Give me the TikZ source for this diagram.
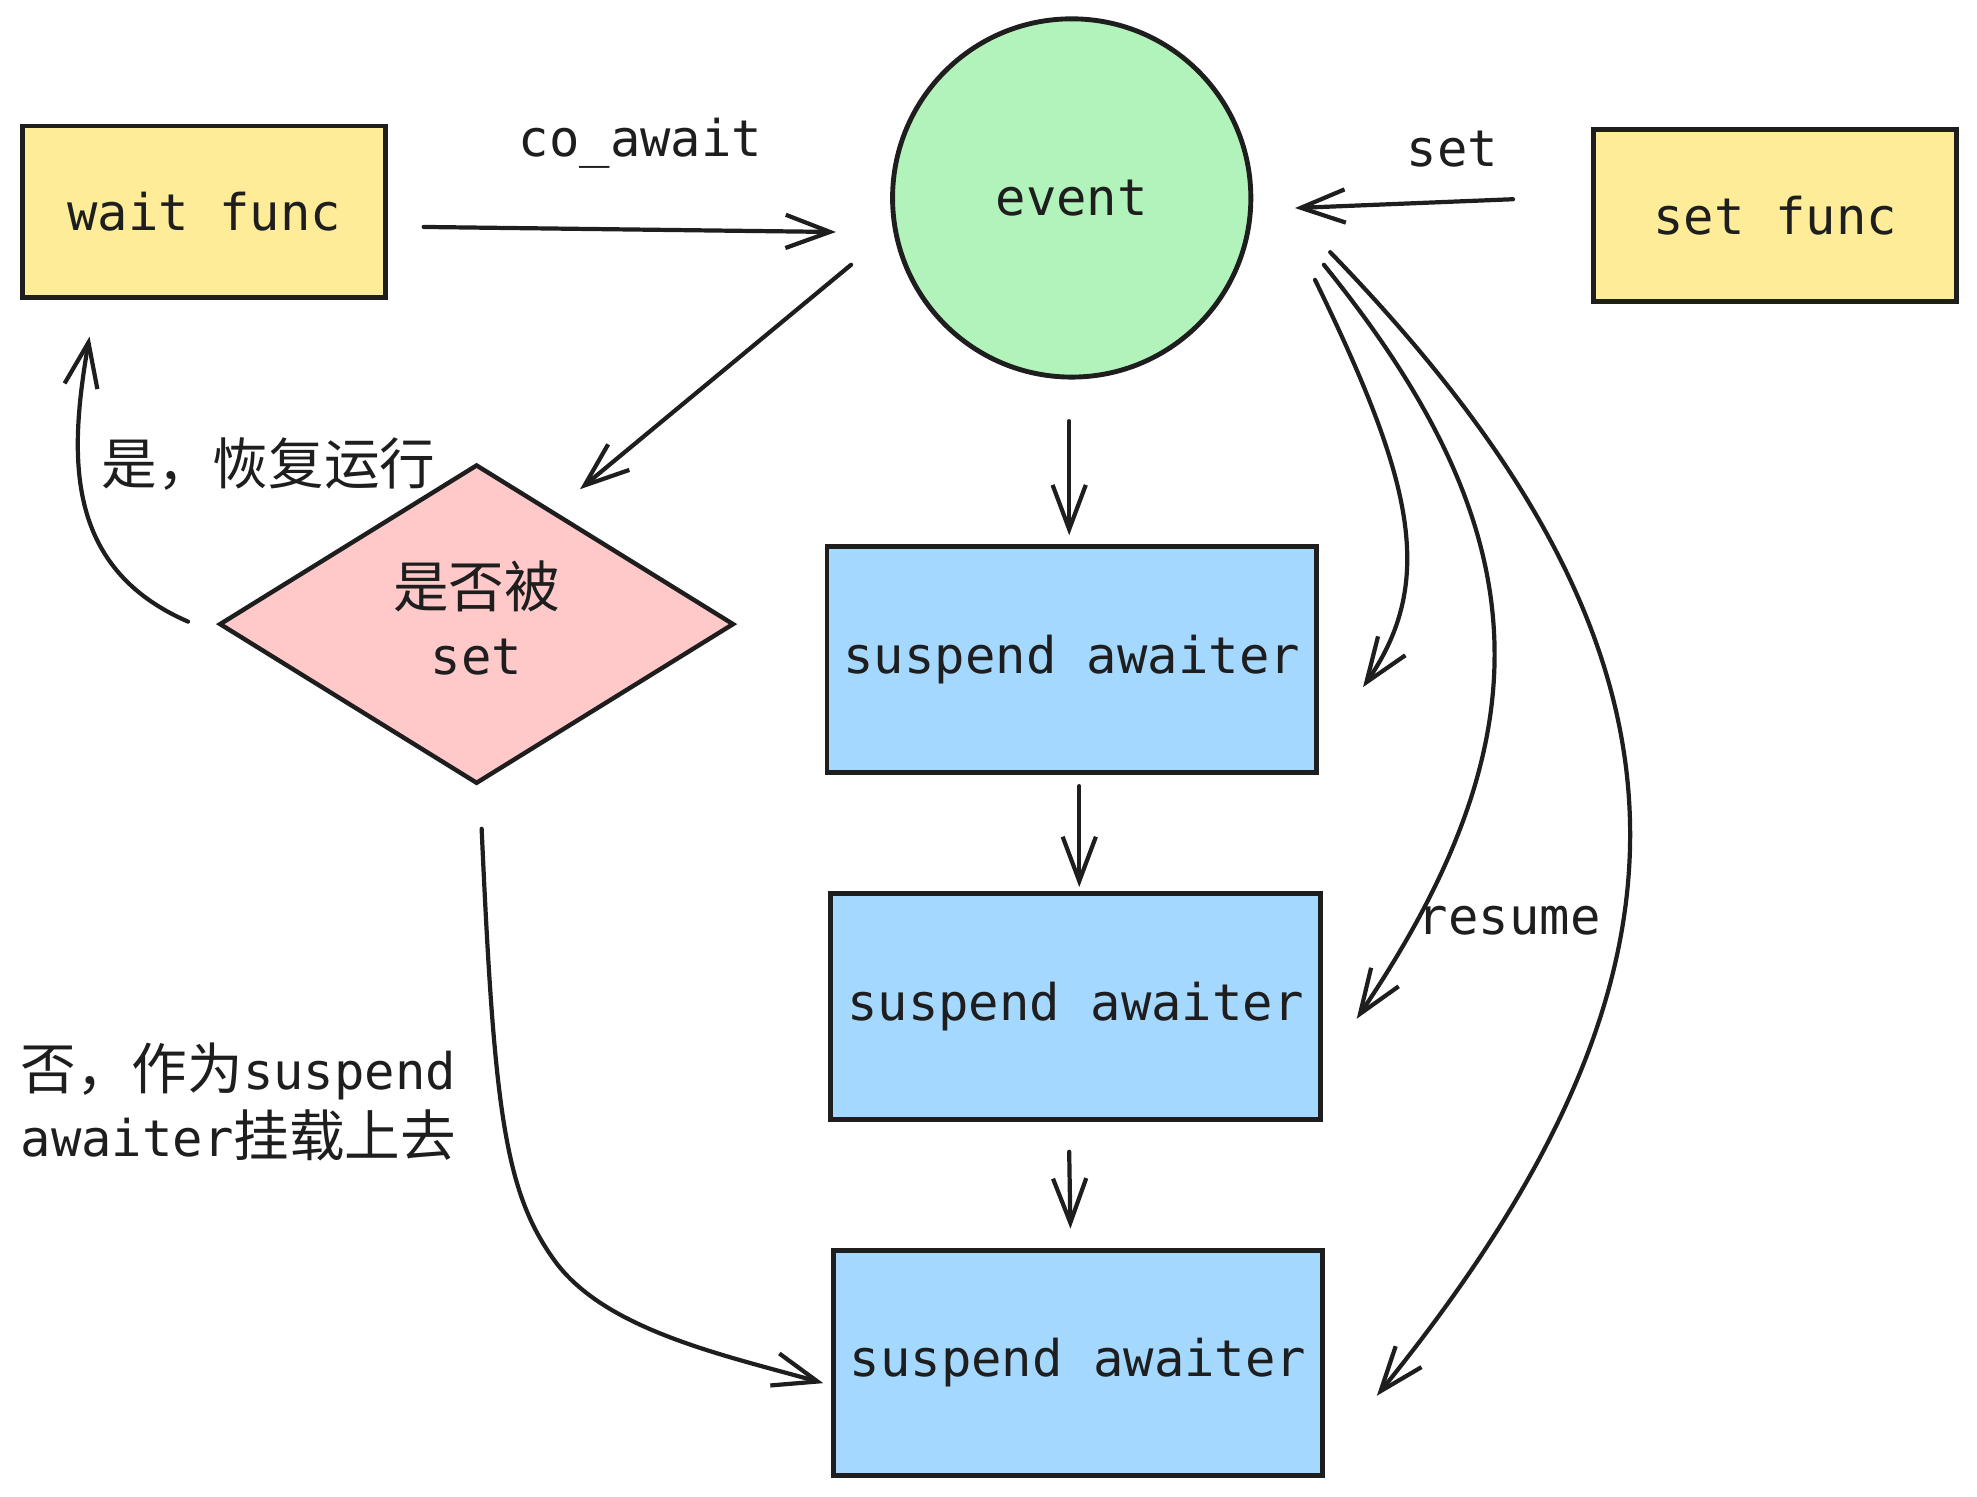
\documentclass[tikz,border=0pt]{standalone}
\usepackage{fontspec}
\setmainfont{DejaVu Sans Mono}
\newfontfamily\cjk{Noto Sans CJK SC}[Scale=1.1]
\usetikzlibrary{arrows.meta,shapes.geometric}
\definecolor{ink}{HTML}{1E1E1E}
\definecolor{yel}{HTML}{FFEC99}
\definecolor{grn}{HTML}{B2F2BB}
\definecolor{pnk}{HTML}{FFC9C9}
\definecolor{blu}{HTML}{A5D8FF}
\tikzset{
  txt/.style={font=\fontsize{11.4pt}{14pt}\selectfont, text=ink},
  ybox/.style={draw=ink, line width=1.1pt, fill=yel, minimum width=2.88cm, minimum height=1.36cm, txt},
  bbox/.style={draw=ink, line width=1.1pt, fill=blu, minimum width=3.88cm, minimum height=1.79cm, txt},
  evcirc/.style={circle, draw=ink, line width=1.1pt, fill=grn, minimum size=2.84cm, txt},
  dbox/.style={diamond, draw=ink, line width=1pt, fill=pnk, minimum width=4.08cm, minimum height=2.53cm, inner sep=0pt},
  arr/.style={draw=ink, line width=0.95pt, line cap=round, -{Straight Barb[length=10pt,width=7.5pt,line width=0.95pt]}},
  lbl/.style={txt, align=left}
}
\begin{document}
\begin{tikzpicture}[x=0.01cm,y=-0.01cm]
\useasboundingbox (0,0) rectangle (1568,1187);
\node[ybox] (wait) at (162,168) {wait func};
\node[ybox] (setf) at (1408,171) {set func};
\node[evcirc] (ev) at (850,157) {event};
\node[dbox] (dia) at (378,495) {};
\node[txt, align=center] (diat) at (378,490) {{\cjk 是否被}\\[1pt]set};
\node[bbox] (b1) at (850,523) {suspend awaiter};
\node[bbox] (b2) at (853,798) {suspend awaiter};
\node[bbox] (b3) at (855,1081) {suspend awaiter};

% labels
\node[txt] (lco) at (508,114) {co\_await};
\node[txt] (lset) at (1152,118) {set};
\node[txt] (lyes) at (213,368) {\cjk 是，恢复运行};
\node[lbl, anchor=west] (lno) at (4,874) {{\cjk 否，作为}suspend\\[1pt]awaiter{\cjk 挂载上去}};
\node[txt] (lres) at (1197,730) {resume};

% connectors
\draw[arr] ([shift={(28,12)}]wait.east) -- ([shift={(-43,27)}]ev.west);
\draw[arr] ([shift={(-62,-13)}]setf.west) -- ([shift={(33,8)}]ev.east);
\draw[arr] ([shift={(-175,53)}]ev.center) -- ([shift={(82,-107)}]dia.center);
\draw[arr] ([shift={(-23,-2)}]dia.west) .. controls (50,450) and (55,360) .. ([shift={(55,29)}]wait.south west);
\draw[arr] ([shift={(4,34)}]dia.south) .. controls (392,880) and (400,945) .. (440,1000)
   .. controls (480,1055) and (575,1075) .. ([shift={(-6,16)}]b3.west);
\draw[arr] ([shift={(-2,33)}]ev.south) -- ([shift={(-2,-7)}]b1.north);
\draw[arr] ([shift={(6,9)}]b1.south) -- ([shift={(3,-3)}]b2.north);
\draw[arr] ([shift={(-5,24)}]b2.south) -- ([shift={(-6,-15)}]b3.north);
\draw[arr] ([shift={(193,65)}]ev.center) .. controls (1120,380) and (1140,460) .. ([shift={(35,22)}]b1.east);
\draw[arr] ([shift={(200,53)}]ev.center) .. controls (1220,420) and (1230,580) .. ([shift={(27,10)}]b2.east);
\draw[arr] ([shift={(205,43)}]ev.center) .. controls (1365,520) and (1365,770) .. ([shift={(41,26)}]b3.east);
\end{tikzpicture}
\end{document}
